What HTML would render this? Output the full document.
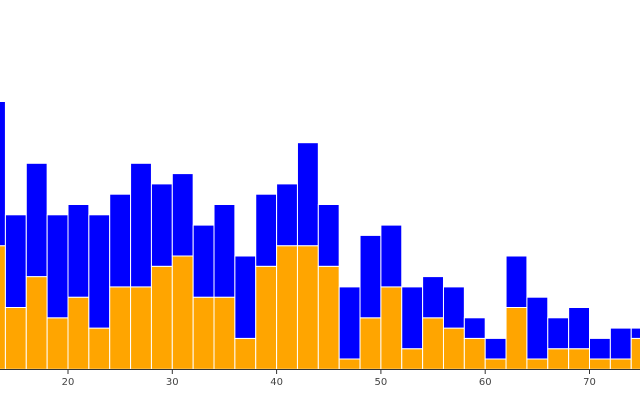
<!DOCTYPE html>
<html><head><meta charset="utf-8"><style>
html,body{margin:0;padding:0;background:#fff;}
svg{display:block;font-family:"DejaVu Sans","Liberation Sans",sans-serif;}
</style></head><body>
<svg id="chart" width="640" height="400"></svg>
<script>
const binStarts = [12,14,16,18,20,22,24,26,28,30,32,34,36,38,40,42,44,46,48,50,52,54,56,58,60,62,64,66,68,70,72,74];
const orangeCounts = [12,6,9,5,7,4,8,8,10,11,7,7,3,10,12,12,10,1,5,8,2,5,4,3,1,6,1,2,2,1,1,3];
const blueCounts = [14,9,11,10,9,11,9,12,8,8,7,9,8,7,6,10,6,7,8,6,6,4,4,2,2,5,6,3,4,2,3,1];
const tickValues = [20,30,40,50,60,70];
const binWidth = 2;

const NS = "http://www.w3.org/2000/svg";
const svg = document.getElementById('chart');
const xS = v => 68 + (v - 20) * 10.43;
const yS = c => 369.3 - c * 10.3;
function mk(tag, attrs, parent) {
  const e = document.createElementNS(NS, tag);
  for (const k in attrs) e.setAttribute(k, attrs[k]);
  (parent || svg).appendChild(e);
  return e;
}
const gBars = mk('g', {});


binStarts.forEach((b, i) => {
  const x0 = xS(b), x1 = xS(b + binWidth);
  const o = orangeCounts[i], t = o + blueCounts[i];
  const ro = mk('rect', {x: x0, y: yS(o), width: x1 - x0, height: yS(0) - yS(o), fill: '#ffa500', stroke: '#fff', 'stroke-width': 1}, gBars);
  
  
  const rb = mk('rect', {x: x0, y: yS(t), width: x1 - x0, height: yS(o) - yS(t), fill: '#0000ff', stroke: '#fff', 'stroke-width': 1}, gBars);
  
  
});
const axis = mk('line', {x1: 0, x2: 640, y1: 369.5, y2: 369.5, stroke: '#333', 'stroke-width': 1});


tickValues.forEach(v => {
  const t = mk('line', {x1: xS(v), x2: xS(v), y1: 369.5, y2: 374, stroke: '#333', 'stroke-width': 1});
  
  
  const l = mk('text', {x: xS(v), y: 385, 'text-anchor': 'middle', 'font-size': 10, fill: '#444'});
  l.textContent = v;
  
  
});
</script>
</body></html>
